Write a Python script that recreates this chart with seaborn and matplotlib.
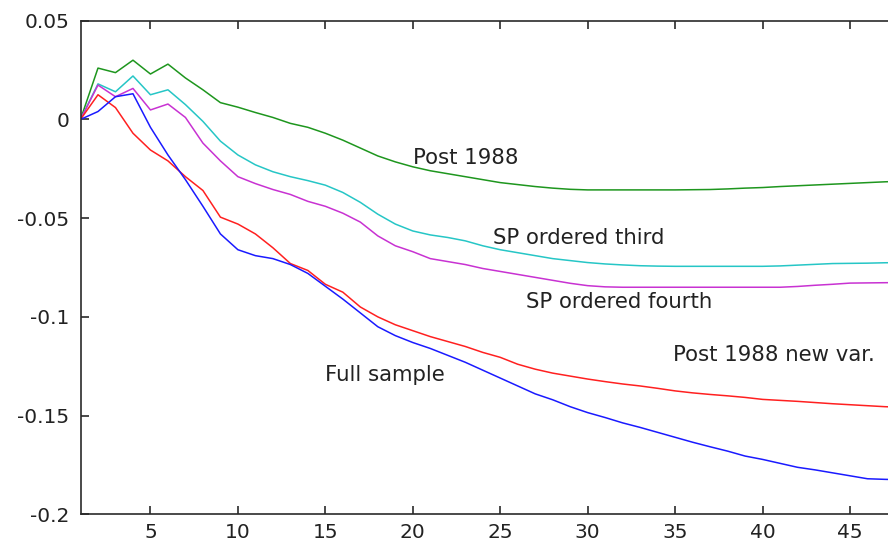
import numpy as np
import pandas as pd
import matplotlib
matplotlib.use("Agg")
import matplotlib.pyplot as plt
import seaborn as sns

horizon = list(range(1, 49))

post_1988 = [0.0, 0.026, 0.0237, 0.030, 0.023, 0.028, 0.021, 0.015, 0.0085, 0.0062,
             0.0035, 0.001, -0.002, -0.004, -0.007, -0.0105, -0.0145, -0.0185, -0.0215, -0.024,
             -0.026, -0.0275, -0.029, -0.0305, -0.032, -0.033, -0.034, -0.0348, -0.0354, -0.0357,
             -0.0357, -0.0357, -0.0357, -0.0357, -0.0357, -0.0356, -0.0355, -0.0352, -0.0348, -0.0345,
             -0.034, -0.0336, -0.0332, -0.0328, -0.0324, -0.032, -0.0316, -0.0313]

sp_third = [0.0, 0.018, 0.014, 0.022, 0.0125, 0.015, 0.0075, -0.001, -0.011, -0.018,
            -0.023, -0.0265, -0.029, -0.031, -0.0333, -0.037, -0.042, -0.048, -0.053, -0.0565,
            -0.0585, -0.0598, -0.0615, -0.064, -0.066, -0.0675, -0.069, -0.0705, -0.0715, -0.0725,
            -0.0732, -0.0737, -0.0741, -0.0743, -0.0744, -0.0744, -0.0744, -0.0744, -0.0744, -0.0744,
            -0.0742, -0.0738, -0.0734, -0.073, -0.0729, -0.0728, -0.0726, -0.0725]

sp_fourth = [0.0, 0.0174, 0.0115, 0.0157, 0.0048, 0.0078, 0.001, -0.012, -0.021, -0.029,
             -0.0325, -0.0355, -0.038, -0.0415, -0.044, -0.0475, -0.052, -0.059, -0.064, -0.067,
             -0.0705, -0.072, -0.0735, -0.0755, -0.077, -0.0785, -0.080, -0.0815, -0.083, -0.0842,
             -0.0848, -0.085, -0.085, -0.085, -0.085, -0.085, -0.085, -0.085, -0.085, -0.085,
             -0.085, -0.0846, -0.084, -0.0835, -0.0829, -0.0828, -0.0827, -0.0826]

post_1988_new = [0.0, 0.0125, 0.006, -0.007, -0.0155, -0.021, -0.029, -0.036, -0.0495, -0.053,
                 -0.058, -0.065, -0.073, -0.0765, -0.0835, -0.0875, -0.095, -0.100, -0.104, -0.107,
                 -0.110, -0.1125, -0.115, -0.118, -0.1205, -0.124, -0.1265, -0.1285, -0.130, -0.1315,
                 -0.1328, -0.134, -0.135, -0.1362, -0.1375, -0.1385, -0.1393, -0.140, -0.1408, -0.1418,
                 -0.1423, -0.1428, -0.1434, -0.144, -0.1445, -0.145, -0.1455, -0.1458]

full_sample = [0.0, 0.004, 0.0115, 0.013, -0.004, -0.018, -0.0305, -0.044, -0.058, -0.066,
               -0.069, -0.0705, -0.0735, -0.078, -0.0845, -0.091, -0.098, -0.105, -0.1095, -0.113,
               -0.116, -0.1195, -0.123, -0.127, -0.131, -0.135, -0.139, -0.142, -0.1455, -0.1485,
               -0.151, -0.1537, -0.156, -0.1585, -0.161, -0.1635, -0.1658, -0.168, -0.1705, -0.1722,
               -0.1742, -0.1762, -0.1775, -0.179, -0.1805, -0.182, -0.1823, -0.1825]

series_names = ["Post 1988", "SP ordered third", "SP ordered fourth",
                "Post 1988 new var.", "Full sample"]
series_values = [post_1988, sp_third, sp_fourth, post_1988_new, full_sample]
colors = ["#1e961e", "#26c6c6", "#c832d2", "#ff2020", "#1a1aff"]

x_ticks = [5, 10, 15, 20, 25, 30, 35, 40, 45]
y_ticks = [-0.2, -0.15, -0.1, -0.05, 0.0, 0.05]
y_tick_labels = ["-0.2", "-0.15", "-0.1", "-0.05", "0", "0.05"]

# label anchor positions (data coords)
label_x = [20.0, 24.6, 26.5, 34.9, 15.0]
label_y = [-0.0193, -0.0601, -0.0925, -0.1192, -0.1293]

frames = []
for name, vals in zip(series_names, series_values):
    frames.append(pd.DataFrame({"horizon": horizon, "response": vals, "series": name}))
df = pd.concat(frames, ignore_index=True)

sns.set_style("white")
plt.rcParams["font.family"] = ["DejaVu Sans"]
plt.rcParams["axes.unicode_minus"] = False

fig = plt.figure(figsize=(8.88, 5.40), dpi=100)
ax = fig.add_axes([80.5 / 888, (540 - 514.3) / 540, (902.5 - 80.5) / 888, (514.3 - 20.7) / 540])

sns.lineplot(data=df, x="horizon", y="response", hue="series",
             hue_order=series_names, palette=colors, linewidth=1.1,
             legend=False, ax=ax, estimator=None)

for name, lx, ly in zip(series_names, label_x, label_y):
    ax.text(lx, ly, name, fontsize=15.3, color="#222222", ha="left", va="center")

ax.set_xlim(1, 48)
ax.set_ylim(-0.2, 0.05)
ax.set_xticks(x_ticks)
ax.set_xticklabels([str(t) for t in x_ticks])
ax.set_yticks(y_ticks)
ax.set_yticklabels(y_tick_labels)
ax.set_xlabel("")
ax.set_ylabel("")

for side in ["top", "bottom", "left", "right"]:
    ax.spines[side].set_visible(True)
    ax.spines[side].set_color("#2a2a2a")
    ax.spines[side].set_linewidth(1.2)

ax.tick_params(axis="both", direction="in", length=6, width=1.2, colors="#2a2a2a",
               labelsize=14.5, labelcolor="#222222", top=True, right=True, left=True, bottom=True)
ax.tick_params(axis="x", pad=6)
ax.tick_params(axis="y", pad=8)

fig.savefig("out.png", dpi=100)
